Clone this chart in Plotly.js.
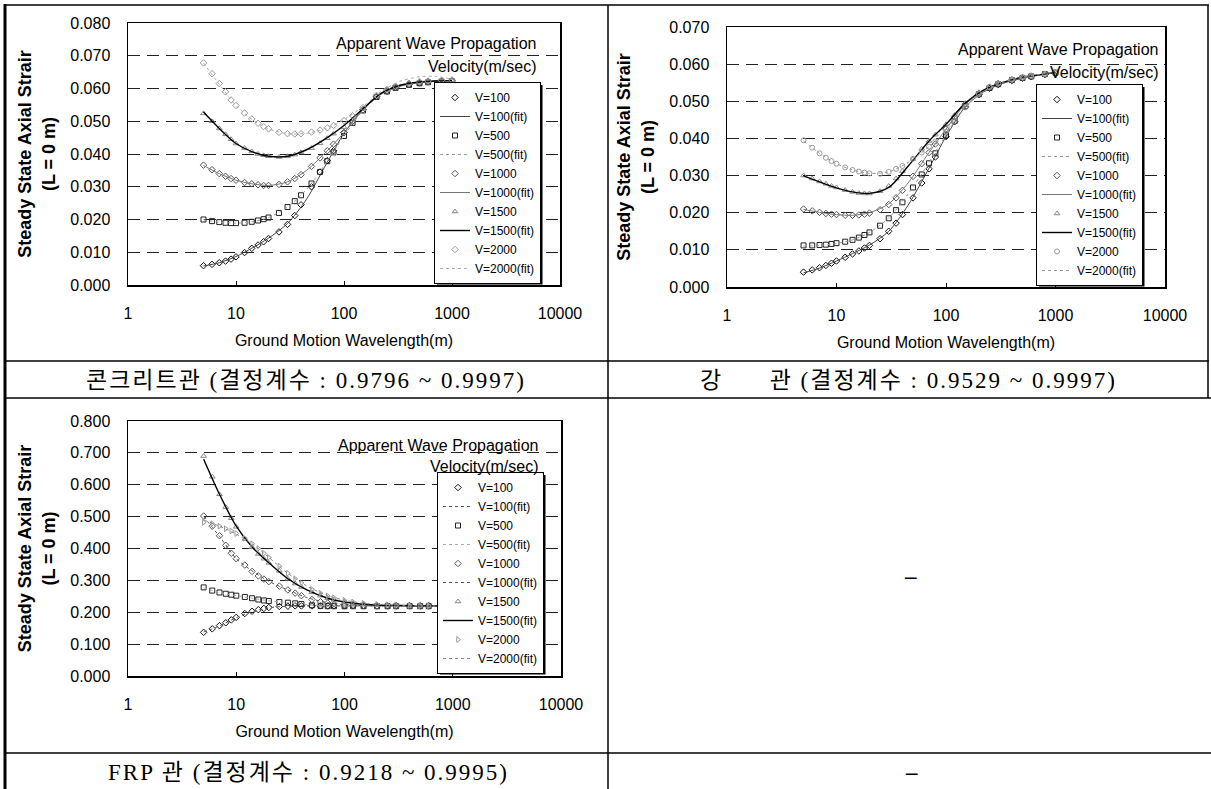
<!DOCTYPE html>
<html><head><meta charset="utf-8">
<script src="https://cdn.plot.ly/plotly-3.0.1.min.js"></script>
<style>html,body{margin:0;padding:0;background:#fff;} #chart{width:1211px;height:789px;}</style>
</head><body><div id="chart"></div>
<script>
// ---------- data ----------
const seriesNames = ['V=100','V=500','V=1000','V=1500','V=2000'];
const ptX = [5,6,7,8,9,10,12,14,16,18,20,25,30,35,40,50,60,70,80,100,120,150,200,250,300,400,500,600,800,1000];
const fitX = [5,7,10,14,20,30,45,70,100,150,220,330,500,700,1000];
const xTickVals = [1,10,100,1000,10000];
const xTickText = ['1','10','100','1000','10000'];

// concrete pipe
const c1_v100  = [0.0059,0.0063,0.0068,0.0073,0.0079,0.0086,0.0099,0.0112,0.0122,0.0132,0.0142,0.0162,0.0185,0.0212,0.0245,0.0300,0.0345,0.0380,0.0410,0.0465,0.0500,0.0535,0.0575,0.0592,0.0603,0.0612,0.0617,0.0620,0.0622,0.0623];
const c1_v500  = [0.0200,0.0195,0.0192,0.0190,0.0189,0.0189,0.0190,0.0193,0.0197,0.0201,0.0206,0.0220,0.0238,0.0256,0.0274,0.0310,0.0345,0.0378,0.0405,0.0455,0.0495,0.0533,0.0574,0.0591,0.0602,0.0611,0.0616,0.0619,0.0621,0.0622];
const c1_v1000 = [0.0366,0.0352,0.0340,0.0332,0.0325,0.0320,0.0313,0.0309,0.0306,0.0304,0.0304,0.0307,0.0315,0.0325,0.0337,0.0362,0.0388,0.0410,0.0430,0.0465,0.0500,0.0535,0.0576,0.0593,0.0604,0.0613,0.0618,0.0621,0.0623,0.0624];
const c1_v1500 = [0.0524,0.0500,0.0478,0.0460,0.0445,0.0432,0.0418,0.0408,0.0400,0.0396,0.0393,0.0391,0.0393,0.0398,0.0405,0.0418,0.0433,0.0448,0.0462,0.0482,0.0505,0.0537,0.0577,0.0595,0.0606,0.0615,0.0620,0.0622,0.0624,0.0625];
const c1_v2000 = [0.0678,0.0645,0.0615,0.0590,0.0565,0.0548,0.0525,0.0507,0.0494,0.0484,0.0477,0.0466,0.0462,0.0461,0.0462,0.0467,0.0473,0.0480,0.0487,0.0502,0.0517,0.0542,0.0579,0.0597,0.0607,0.0616,0.0621,0.0623,0.0625,0.0626];
const c1_f100  = [0.0058,0.0068,0.0087,0.0112,0.0143,0.0188,0.0262,0.0375,0.0463,0.0537,0.0583,0.0607,0.0618,0.0622,0.0624];
const c1_f500  = [0.0199,0.0192,0.0189,0.0193,0.0206,0.0238,0.0292,0.0378,0.0455,0.0533,0.0582,0.0607,0.0618,0.0622,0.0624];
const c1_f1000 = [0.0365,0.0340,0.0320,0.0309,0.0304,0.0315,0.0350,0.0410,0.0465,0.0535,0.0583,0.0608,0.0619,0.0623,0.0624];
const c1_f1500 = [0.0528,0.0478,0.0432,0.0407,0.0393,0.0393,0.0413,0.0450,0.0487,0.0538,0.0585,0.0610,0.0620,0.0623,0.0624];
const c1_f2000 = [0.0678,0.0613,0.0548,0.0506,0.0477,0.0462,0.0463,0.0480,0.0505,0.0545,0.0590,0.0622,0.0636,0.0637,0.0628];

// steel pipe
const c2_v100  = [0.0040,0.0046,0.0052,0.0058,0.0064,0.0070,0.0080,0.0089,0.0097,0.0105,0.0112,0.0130,0.0150,0.0172,0.0195,0.0240,0.0280,0.0318,0.0350,0.0405,0.0445,0.0485,0.0518,0.0535,0.0545,0.0556,0.0562,0.0566,0.0572,0.0576];
const c2_v500  = [0.0112,0.0112,0.0113,0.0114,0.0116,0.0118,0.0122,0.0127,0.0133,0.0140,0.0147,0.0165,0.0185,0.0207,0.0228,0.0268,0.0303,0.0333,0.0360,0.0410,0.0447,0.0487,0.0519,0.0536,0.0546,0.0557,0.0563,0.0567,0.0573,0.0577];
const c2_v1000 = [0.0210,0.0205,0.0201,0.0198,0.0196,0.0195,0.0193,0.0193,0.0194,0.0196,0.0199,0.0208,0.0222,0.0240,0.0260,0.0298,0.0332,0.0362,0.0385,0.0425,0.0458,0.0492,0.0522,0.0538,0.0548,0.0558,0.0564,0.0568,0.0573,0.0577];
const c2_v1500 = [0.0300,0.0292,0.0284,0.0278,0.0272,0.0268,0.0261,0.0256,0.0253,0.0252,0.0252,0.0258,0.0272,0.0292,0.0312,0.0345,0.0372,0.0393,0.0410,0.0438,0.0463,0.0495,0.0524,0.0540,0.0549,0.0559,0.0565,0.0569,0.0574,0.0578];
const c2_v2000 = [0.0395,0.0375,0.0360,0.0348,0.0339,0.0332,0.0322,0.0315,0.0311,0.0308,0.0306,0.0305,0.0310,0.0318,0.0326,0.0345,0.0362,0.0378,0.0392,0.0418,0.0447,0.0485,0.0520,0.0538,0.0548,0.0558,0.0564,0.0568,0.0573,0.0577];
const c2_f100  = [0.0038,0.0051,0.0070,0.0090,0.0113,0.0150,0.0220,0.0320,0.0405,0.0485,0.0525,0.0548,0.0562,0.0570,0.0577];
const c2_f500  = [0.0110,0.0112,0.0117,0.0127,0.0147,0.0186,0.0250,0.0335,0.0410,0.0487,0.0526,0.0549,0.0563,0.0570,0.0577];
const c2_f1000 = [0.0209,0.0201,0.0195,0.0193,0.0200,0.0224,0.0280,0.0362,0.0425,0.0492,0.0528,0.0550,0.0564,0.0571,0.0577];
const c2_f1500 = [0.0299,0.0283,0.0267,0.0256,0.0252,0.0268,0.0325,0.0393,0.0438,0.0495,0.0530,0.0551,0.0565,0.0571,0.0578];
const c2_f2000 = [0.0393,0.0360,0.0332,0.0315,0.0306,0.0310,0.0335,0.0378,0.0420,0.0485,0.0527,0.0551,0.0565,0.0572,0.0578];

// FRP pipe
const c3_v100  = [0.137,0.148,0.158,0.167,0.176,0.184,0.196,0.203,0.208,0.212,0.215,0.218,0.219,0.220,0.220,0.220,0.220,0.220,0.220,0.220,0.220,0.220,0.220,0.220,0.220,0.220,0.220,0.220,0.220,0.220];
const c3_v500  = [0.278,0.268,0.262,0.258,0.255,0.252,0.248,0.244,0.240,0.237,0.235,0.232,0.230,0.228,0.226,0.222,0.220,0.219,0.219,0.219,0.219,0.219,0.219,0.219,0.219,0.219,0.219,0.219,0.219,0.219];
const c3_v1000 = [0.502,0.470,0.440,0.410,0.385,0.368,0.348,0.328,0.314,0.304,0.296,0.282,0.270,0.260,0.252,0.240,0.233,0.229,0.226,0.223,0.222,0.221,0.220,0.220,0.220,0.220,0.220,0.220,0.220,0.220];
const c3_v1500 = [0.690,0.625,0.570,0.530,0.495,0.468,0.430,0.404,0.383,0.368,0.355,0.330,0.305,0.290,0.279,0.263,0.252,0.244,0.239,0.232,0.228,0.225,0.223,0.222,0.221,0.220,0.220,0.220,0.220,0.220];
const c3_v2000 = [0.482,0.478,0.470,0.462,0.455,0.447,0.432,0.415,0.400,0.385,0.372,0.345,0.322,0.305,0.292,0.272,0.260,0.251,0.245,0.237,0.232,0.228,0.225,0.223,0.222,0.221,0.220,0.220,0.220,0.220];
const c3_f100  = [0.138,0.157,0.183,0.202,0.214,0.219,0.220,0.220,0.220,0.220,0.220,0.220,0.220,0.220,0.220];
const c3_f500  = [0.276,0.262,0.252,0.244,0.236,0.230,0.224,0.220,0.219,0.219,0.219,0.219,0.219,0.219,0.219];
const c3_f1000 = [0.500,0.438,0.368,0.330,0.297,0.270,0.246,0.230,0.224,0.221,0.220,0.220,0.220,0.220,0.220];
const c3_f1500 = [0.680,0.570,0.470,0.405,0.355,0.305,0.270,0.244,0.232,0.225,0.222,0.221,0.220,0.220,0.220];
const c3_f2000 = [0.490,0.470,0.445,0.415,0.372,0.322,0.282,0.252,0.238,0.228,0.224,0.222,0.221,0.220,0.220];

const captions = [
  '콘크리트관 (결정계수 : 0.9796 ~ 0.9997)',
  '강      관 (결정계수 : 0.9529 ~ 0.9997)',
  'FRP 관 (결정계수 : 0.9218 ~ 0.9995)'
];
const xTitle = 'Ground Motion Wavelength(m)';
const yTitle = 'Steady State Axial Strair<br>(L = 0 m)';
const noteLines = ['Apparent Wave Propagation', 'Velocity(m/sec)'];

// ---------- styling ----------
const W = 1211, H = 789;
const px = v => v / W;
const py = v => 1 - v / H;
const NARROW = "'Liberation Sans Narrow', 'Arial Narrow', 'Liberation Sans', Arial, sans-serif";
const SANS = "'Liberation Sans', Arial, sans-serif";
const SERIF = "'Liberation Serif', 'Noto Sans CJK KR', serif";

const charts = [
  {pts:[c1_v100,c1_v500,c1_v1000,c1_v1500,c1_v2000], fits:[c1_f100,c1_f500,c1_f1000,c1_f1500,c1_f2000],
   syms:['diamond-open','square-open','diamond-open','triangle-up-open','diamond-open'],
   fitDash:['solid','dot','solid','solid','dot'], fitCol:['#444','#999','#777','#000','#aaa'],
   legend:'legend', xa:'x', ya:'y'},
  {pts:[c2_v100,c2_v500,c2_v1000,c2_v1500,c2_v2000], fits:[c2_f100,c2_f500,c2_f1000,c2_f1500,c2_f2000],
   syms:['diamond-open','square-open','diamond-open','triangle-up-open','circle-open'],
   fitDash:['solid','dot','solid','solid','dot'], fitCol:['#444','#999','#777','#000','#999'],
   legend:'legend2', xa:'x2', ya:'y2'},
  {pts:[c3_v100,c3_v500,c3_v1000,c3_v1500,c3_v2000], fits:[c3_f100,c3_f500,c3_f1000,c3_f1500,c3_f2000],
   syms:['diamond-open','square-open','diamond-open','triangle-up-open','triangle-right-open'],
   fitDash:['dot','dot','dot','solid','dot'], fitCol:['#555','#aaa','#555','#000','#888'],
   legend:'legend3', xa:'x3', ya:'y3'}
];
const markCol = ['#111','#222','#555','#888','#999'];

const traces = [];
charts.forEach(c => {
  seriesNames.forEach((nm, i) => {
    traces.push({x: ptX, y: c.pts[i], name: nm, type:'scatter', mode:'markers',
      xaxis:c.xa, yaxis:c.ya, legend:c.legend, showlegend:true,
      marker:{symbol:c.syms[i], size:5, color:markCol[i], line:{width:1, color:markCol[i]}}});
    traces.push({x: fitX, y: c.fits[i], name: nm + '(fit)', type:'scatter', mode:'lines',
      xaxis:c.xa, yaxis:c.ya, legend:c.legend, showlegend:true,
      line:{shape:'spline', smoothing:0.8, dash:c.fitDash[i], color:c.fitCol[i], width: i===3 ? 1.4 : 1}});
  });
});

function xAxis(l, r, anchor) {
  return {type:'log', domain:[px(l), px(r)], anchor, range:[0,4],
    tickmode:'array', tickvals:xTickVals, ticktext:xTickText,
    ticks:'inside', ticklen:4, tickcolor:'#000', tickwidth:1,
    showline:true, mirror:true, linecolor:'#000', linewidth:1.5,
    showgrid:false, zeroline:false, ticklabelstandoff:13,
    tickfont:{family:NARROW, size:16, color:'#000'},
    title:{text:xTitle, font:{family:NARROW, size:16, color:'#000'}, standoff:14}};
}
function yAxis(top, bot, anchor, max, dt) {
  return {domain:[py(bot), py(top)], anchor, range:[0,max], dtick:dt,
    tickformat:'.3f', ticks:'', showline:true, mirror:true, linecolor:'#000', linewidth:1.5,
    showgrid:true, gridcolor:'#222', griddash:'12px,7px', gridwidth:1, zeroline:false,
    ticklabelstandoff:13, tickfont:{family:NARROW, size:16, color:'#000'},
    title:{text:yTitle, font:{family:SANS, size:18, color:'#000', weight:'bold'}, standoff:10}};
}

const LW = 106, LH = 200;
function legendAt(l, t) {
  return {x:px(l), y:py(t), xanchor:'left', yanchor:'top', bgcolor:'#fff', bordercolor:'#000',
    borderwidth:1, font:{family:NARROW, size:12, color:'#000'}, itemwidth:30, tracegroupgap:0};
}
const legendPos = [[434, 82], [1036, 84], [437, 472]];

const ann = [];
function notes(right, y1, y2) {
  ann.push({xref:'paper', yref:'paper', x:px(right), y:py(y1), xanchor:'right', yanchor:'middle', showarrow:false,
    text:noteLines[0], font:{family:NARROW, size:16, color:'#000'}});
  ann.push({xref:'paper', yref:'paper', x:px(right), y:py(y2), xanchor:'right', yanchor:'middle', showarrow:false,
    text:noteLines[1], font:{family:NARROW, size:16, color:'#000'}});
}
notes(538, 43, 66);
notes(1160, 49, 72);
notes(540, 445, 466);

function caption(x, y, t, bold) {
  ann.push({xref:'paper', yref:'paper', x:px(x), y:py(y), xanchor:'center', yanchor:'middle', showarrow:false,
    text:'<span style="letter-spacing:2px">' + t + '</span>',
    font:{family:SERIF, size:23, color:'#000', weight: bold ? 'bold' : 'normal'}});
}
caption(306, 380, captions[0]);
caption(908, 380, captions[1]);
caption(308, 772, captions[2]);
caption(911, 576, '–', true);
caption(912, 772, '–', true);

function hl(y, x0, x1, w) { return {type:'line', xref:'paper', yref:'paper', x0:px(x0), x1:px(x1), y0:py(y), y1:py(y), line:{color:'#000', width:w||1.5}}; }
function vl(x, y0, y1, w) { return {type:'line', xref:'paper', yref:'paper', x0:px(x), x1:px(x), y0:py(y0), y1:py(y1), line:{color:'#000', width:w||1.5}}; }
const shapes = [
  hl(5, 4, 1209), hl(361, 4, 1209), hl(398, 4, 1211), hl(753, 4, 1211),
  vl(5, 4, 789, 3), vl(608, 5, 789), vl(1208, 5, 398)
];
// legend drop shadows
legendPos.forEach(([l, t]) => {
  shapes.push({type:'rect', xref:'paper', yref:'paper', layer:'above',
    x0:px(l + 3), x1:px(l + LW + 2.5), y0:py(t + 3), y1:py(t + LH + 2.5),
    fillcolor:'#000', line:{width:0}});
});

const layout = {
  width:W, height:H, margin:{l:0, r:0, t:0, b:0}, paper_bgcolor:'#fff', plot_bgcolor:'#fff',
  showlegend:true,
  xaxis: xAxis(128, 560, 'y'), yaxis: yAxis(23, 285, 'x', 0.08, 0.01),
  xaxis2: xAxis(727, 1165, 'y2'), yaxis2: yAxis(27, 287, 'x2', 0.07, 0.01),
  xaxis3: xAxis(128, 561, 'y3'), yaxis3: yAxis(421, 676, 'x3', 0.8, 0.1),
  legend: legendAt(...legendPos[0]), legend2: legendAt(...legendPos[1]), legend3: legendAt(...legendPos[2]),
  annotations: ann, shapes: shapes
};

Plotly.newPlot('chart', traces, layout, {displayModeBar:false, staticPlot:true});
</script></body></html>
